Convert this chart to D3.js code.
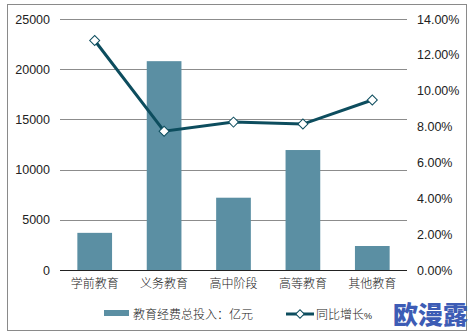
<!DOCTYPE html>
<html><head><meta charset="utf-8">
<script src="https://cdn.jsdelivr.net/npm/d3@7"></script>
<style>body{margin:0;background:#fff}svg{display:block}text{font-family:"Liberation Sans","Noto Sans CJK SC",Arial,sans-serif}</style>
</head><body>
<svg id="c" width="474" height="333"></svg>
<script>
const categories = ["学前教育","义务教育","高中阶段","高等教育","其他教育"];
const investment = [3700, 20800, 7200, 11950, 2390];
const growth = [12.8, 7.74, 8.25, 8.14, 9.48];
const leftTicks = [0,5000,10000,15000,20000,25000];
const rightTicks = [0,2,4,6,8,10,12,14];
const seriesNames = ["教育经费总投入：亿元","同比增长%"];

const svg = d3.select("#c");
const barColor = "#5b8fa3", lineColor = "#0d4d5e";
svg.append("rect").attr("x",7.5).attr("y",4.5).attr("width",459).attr("height",326)
  .attr("fill","#fff").attr("stroke","#8a8a8a").attr("stroke-width",1);

const L=60,R=407,T=19,B=270;
const x = d3.scaleBand().domain(categories).range([L,R]).paddingInner(0.5).paddingOuter(0.25);
const y = d3.scaleLinear().domain([0,25000]).range([B,T]);
const y2 = d3.scaleLinear().domain([0,14]).range([B,T]);

svg.append("g").selectAll("line").data(leftTicks.slice(1)).join("line")
  .attr("x1",L).attr("x2",R).attr("y1",d=>Math.round(y(d))+0.5).attr("y2",d=>Math.round(y(d))+0.5)
  .attr("stroke","#8c8c8c").attr("stroke-width",1);

svg.append("g").selectAll("rect").data(investment).join("rect")
  .attr("x",(d,i)=>x(categories[i])).attr("width",x.bandwidth())
  .attr("y",d=>y(d)).attr("height",d=>B-y(d)).attr("fill",barColor);

svg.append("line").attr("x1",L).attr("x2",R).attr("y1",B+0.5).attr("y2",B+0.5).attr("stroke","#222").attr("stroke-width",1);

const la = svg.append("g").attr("transform",`translate(${L},0)`)
  .call(d3.axisLeft(y).tickValues(leftTicks).tickSize(0).tickPadding(10).tickFormat(d3.format("d")));
la.select(".domain").remove();
la.selectAll("text").attr("font-size",12.5).attr("fill","#222");

const ra = svg.append("g").attr("transform",`translate(${R},0)`)
  .call(d3.axisRight(y2).tickValues(rightTicks).tickSize(0).tickPadding(10).tickFormat(d=>d.toFixed(2)+"%"));
ra.select(".domain").remove();
ra.selectAll("text").attr("font-size",12.5).attr("fill","#222");

const xa = svg.append("g").attr("transform",`translate(0,${B})`)
  .call(d3.axisBottom(x).tickSize(0).tickPadding(9));
xa.select(".domain").remove();
xa.selectAll("text").attr("font-size",12).attr("fill","#222").attr("font-weight",300);

const cx = (d,i)=>x(categories[i])+x.bandwidth()/2;
svg.append("path").datum(growth)
  .attr("d",d3.line().x(cx).y(d=>y2(d)))
  .attr("fill","none").attr("stroke",lineColor).attr("stroke-width",3);
svg.append("g").selectAll("path").data(growth).join("path")
  .attr("d",d3.symbol().type(d3.symbolSquare).size(50))
  .attr("transform",(d,i)=>`translate(${cx(d,i)},${y2(d)}) rotate(45)`)
  .attr("fill","#fff").attr("stroke",lineColor).attr("stroke-width",1);

const lg = svg.append("g");
lg.append("rect").attr("x",104).attr("y",310).attr("width",25).attr("height",6).attr("fill",barColor);
lg.append("text").attr("x",133).attr("y",318.5).attr("font-size",12).attr("fill","#222").attr("font-weight",300).text(seriesNames[0]);
lg.append("line").attr("x1",286).attr("x2",314).attr("y1",314).attr("y2",314).attr("stroke",lineColor).attr("stroke-width",3);
lg.append("path").attr("d",d3.symbol().type(d3.symbolSquare).size(36)).attr("transform","translate(300,314) rotate(45)")
  .attr("fill","#fff").attr("stroke",lineColor).attr("stroke-width",1);
lg.append("text").attr("x",316).attr("y",318.5).attr("font-size",12).attr("fill","#222").attr("font-weight",300)
  .html('同比增长<tspan font-size="9">%</tspan>');

svg.append("text").attr("x",393).attr("y",324).attr("font-size",25).attr("font-weight",900)
  .attr("font-family","Noto Sans CJK SC")
  .attr("fill","#3d5cb5").attr("textLength",75).text("欧漫露");
</script>
</body></html>
